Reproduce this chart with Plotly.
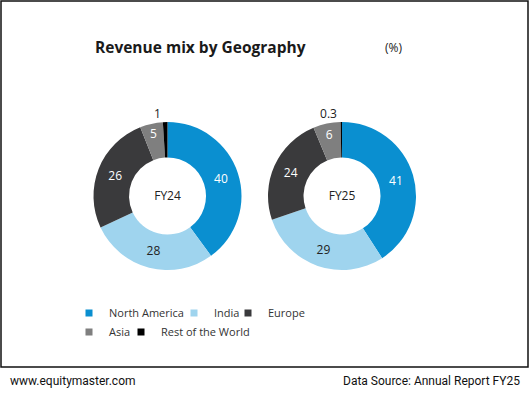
import plotly.graph_objects as go

# ---- data ----
categories = ["North America", "India", "Europe", "Asia", "Rest of the World"]
fy24_values = [40, 28, 26, 5, 1]
fy25_values = [41, 29, 24, 6, 0.3]
years = ["FY24", "FY25"]
slice_colors = ["#0a8fd0", "#9fd4ee", "#3a3a3c", "#7f7f7f", "#000000"]
label_colors = ["#ffffff", "#222222", "#ffffff", "#ffffff", "#222222"]

W, H = 530, 395
FONT = "Open Sans"

def px_x(v):
    return v / W

def px_y(v):
    return 1 - v / H

fig = go.Figure()

# donut geometry (pixels): centre x, centre y, outer radius
donuts = [(167.5, 196, 74), (342, 196, 74)]
for vals, yr, (cx, cy, r) in zip([fy24_values, fy25_values], years, donuts):
    fig.add_trace(go.Pie(
        labels=categories,
        values=vals,
        sort=False,
        direction="clockwise",
        rotation=0,
        hole=0.52,
        marker=dict(colors=slice_colors, line=dict(width=0)),
        texttemplate="%{value}",
        textposition=["inside", "inside", "inside", "inside", "outside"],
        insidetextorientation="horizontal",
        insidetextfont=dict(family=FONT, size=12, color=label_colors),
        outsidetextfont=dict(family=FONT, size=12, color="#222222"),
        title=dict(text=yr, position="middle center",
                   font=dict(family=FONT, size=12, color="#222222")),
        domain=dict(x=[px_x(cx - r), px_x(cx + r)], y=[px_y(cy + r), px_y(cy - r)]),
        showlegend=False,
        hoverinfo="label+value",
    ))

# legend proxies (one legend per entry so that spacing follows the reference)
legend_pos = [(109, 313), (214, 313), (268, 313), (109, 332), (161, 332)]
layout_legends = {}
for i, (cat, col, (lx, ly)) in enumerate(zip(categories, slice_colors, legend_pos)):
    key = "legend" if i == 0 else f"legend{i + 1}"
    fig.add_trace(go.Scatter(
        x=[None], y=[None], mode="markers", name=cat,
        marker=dict(symbol="square", size=7, color=col),
        legend=key, showlegend=True, hoverinfo="skip",
    ))
    layout_legends[key] = dict(
        x=px_x(lx - 40), y=px_y(ly), xanchor="left", yanchor="middle",
        orientation="h", bgcolor="rgba(0,0,0,0)", borderwidth=0,
        font=dict(family=FONT, size=11, color="#333333"),
        itemclick=False, itemdoubleclick=False,
    )

fig.update_layout(
    width=W, height=H,
    margin=dict(l=0, r=0, t=0, b=0),
    paper_bgcolor="white", plot_bgcolor="white",
    xaxis=dict(visible=False), yaxis=dict(visible=False),
    **layout_legends,
    annotations=[
        dict(text="<b>Revenue mix by Geography</b>", x=px_x(93), y=px_y(47),
             xref="paper", yref="paper", xanchor="left", yanchor="middle",
             showarrow=False, font=dict(family=FONT, size=15.5, color="#1a1a1a")),
        dict(text="(%)", x=px_x(383), y=px_y(48),
             xref="paper", yref="paper", xanchor="left", yanchor="middle",
             showarrow=False, font=dict(family=FONT, size=12, color="#222222")),
        dict(text="www.equitymaster.com", x=px_x(8), y=px_y(381),
             xref="paper", yref="paper", xanchor="left", yanchor="middle",
             showarrow=False, font=dict(family="Roboto", size=12, color="#111111")),
        dict(text="Data Source: Annual Report FY25", x=px_x(522), y=px_y(381),
             xref="paper", yref="paper", xanchor="right", yanchor="middle",
             showarrow=False, font=dict(family="Roboto", size=12, color="#111111")),
    ],
    shapes=[
        dict(type="rect", xref="paper", yref="paper",
             x0=px_x(1), x1=px_x(528), y0=px_y(367), y1=px_y(1),
             line=dict(color="#111111", width=1.5), fillcolor="rgba(0,0,0,0)"),
    ],
)

fig.write_html(
    "out.html",
    config={"displayModeBar": False},
    post_script="document.body.style.margin='0';document.body.style.overflow='hidden';",
)
